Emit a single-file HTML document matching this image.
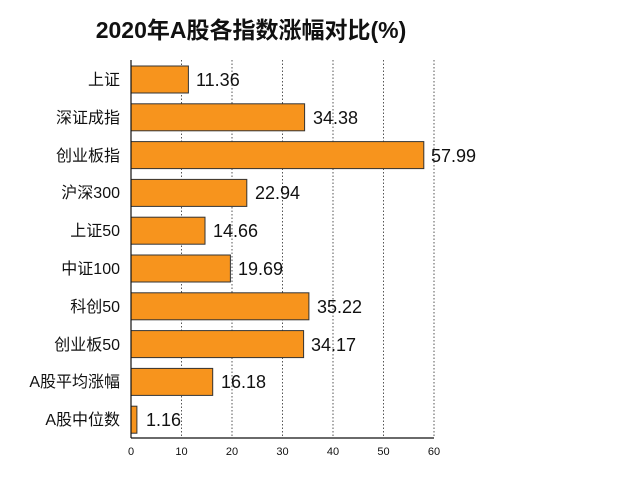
<!DOCTYPE html><html><head><meta charset="utf-8"><style>body{margin:0;background:#fff}</style></head><body>
<svg width="618" height="484" xmlns="http://www.w3.org/2000/svg" font-family="Liberation Sans, Noto Sans CJK SC, sans-serif">
<rect width="618" height="484" fill="#fff"/>
<text x="251" y="38" font-size="23" font-weight="bold" text-anchor="middle" fill="#111">2020年A股各指数涨幅对比(%)</text>
<g stroke="#555" stroke-dasharray="1.5,2" stroke-width="1">
<line x1="181.5" y1="60" x2="181.5" y2="438"/><line x1="232" y1="60" x2="232" y2="438"/><line x1="282.5" y1="60" x2="282.5" y2="438"/><line x1="333" y1="60" x2="333" y2="438"/><line x1="383.5" y1="60" x2="383.5" y2="438"/><line x1="434" y1="60" x2="434" y2="438"/>
</g>
<g fill="#f7941d" stroke="#333" stroke-width="1">
<rect x="131" y="66" width="57.4" height="27"/>
<rect x="131" y="103.8" width="173.6" height="27"/>
<rect x="131" y="141.6" width="292.8" height="27"/>
<rect x="131" y="179.4" width="115.8" height="27"/>
<rect x="131" y="217.2" width="74" height="27"/>
<rect x="131" y="255" width="99.4" height="27"/>
<rect x="131" y="292.8" width="177.9" height="27"/>
<rect x="131" y="330.6" width="172.6" height="27"/>
<rect x="131" y="368.4" width="81.7" height="27"/>
<rect x="131" y="406.2" width="5.9" height="27"/>
</g>
<line x1="131" y1="60" x2="131" y2="438" stroke="#111" stroke-width="1.2"/>
<line x1="131" y1="438" x2="434" y2="438" stroke="#111" stroke-width="1.2"/>
<g font-size="16" text-anchor="end" fill="#111">
<text x="120" y="85">上证</text><text x="120" y="123">深证成指</text><text x="120" y="161">创业板指</text><text x="120" y="198">沪深300</text><text x="120" y="236">上证50</text><text x="120" y="274">中证100</text><text x="120" y="312">科创50</text><text x="120" y="350">创业板50</text><text x="120" y="387">A股平均涨幅</text><text x="120" y="425">A股中位数</text>
</g>
<g font-size="18" fill="#111">
<text x="196" y="86">11.36</text><text x="313" y="124">34.38</text><text x="431" y="162">57.99</text><text x="255" y="199">22.94</text><text x="213" y="237">14.66</text><text x="238" y="275">19.69</text><text x="317" y="313">35.22</text><text x="311" y="351">34.17</text><text x="221" y="388">16.18</text><text x="146" y="426">1.16</text>
</g>
<g font-size="11" text-anchor="middle" fill="#111">
<text x="131" y="455">0</text><text x="181.5" y="455">10</text><text x="232" y="455">20</text><text x="282.5" y="455">30</text><text x="333" y="455">40</text><text x="383.5" y="455">50</text><text x="434" y="455">60</text>
</g>
</svg></body></html>
